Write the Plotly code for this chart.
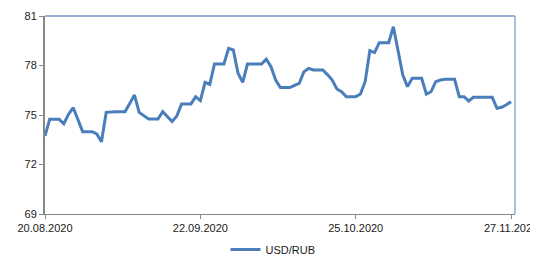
import plotly.graph_objects as go
import pandas as pd

start_date = "2020-08-20"
usd_rub = [
    73.73, 74.74, 74.74, 74.74, 74.47, 75.05, 75.44, 74.70, 73.99, 73.99,
    73.99, 73.85, 73.38, 75.16, 75.20, 75.20, 75.20, 75.20, 75.70, 76.21,
    75.16, 74.95, 74.76, 74.76, 74.76, 75.20, 74.90, 74.60, 74.94, 75.67,
    75.67, 75.67, 76.11, 75.87, 76.98, 76.86, 78.09, 78.09, 78.09, 79.04,
    78.94, 77.53, 76.98, 78.09, 78.09, 78.09, 78.09, 78.38, 77.93, 77.12,
    76.66, 76.66, 76.66, 76.80, 76.92, 77.62, 77.83, 77.73, 77.73, 77.73,
    77.45, 77.12, 76.58, 76.41, 76.11, 76.11, 76.11, 76.27, 77.02, 78.90,
    78.78, 79.38, 79.38, 79.38, 80.35, 78.90, 77.42, 76.72, 77.22, 77.22,
    77.22, 76.27, 76.41, 77.02, 77.12, 77.16, 77.16, 77.16, 76.11, 76.11,
    75.85, 76.07, 76.07, 76.07, 76.07, 76.07, 75.41, 75.47, 75.62, 75.81,
]
dates = pd.date_range(start_date, periods=len(usd_rub), freq="D")

x_tick_vals = ["2020-08-20", "2020-09-22", "2020-10-25", "2020-11-27"]
x_tick_text = ["20.08.2020", "22.09.2020", "25.10.2020", "27.11.2020"]
y_tick_vals = [69, 72, 75, 78, 81]

fig = go.Figure()
fig.add_trace(go.Scatter(
    x=dates, y=usd_rub, mode="lines", name="USD/RUB",
    line=dict(color="#4A7EBB", width=3),
))

axis_gray = "#878787"
fig.update_layout(
    width=530, height=249,
    margin=dict(l=37, r=23, t=8, b=43, autoexpand=False),
    paper_bgcolor="white", plot_bgcolor="white",
    font=dict(family="Liberation Sans", size=11, color="#1a1a1a"),
    showlegend=True,
    legend=dict(orientation="h", x=0.5, xanchor="center", xref="container",
                y=0.03, yanchor="middle", yref="container",
                font=dict(size=11), itemwidth=30),
    xaxis=dict(
        range=["2020-08-20", "2020-11-27 20:00"],
        tickvals=x_tick_vals, ticktext=x_tick_text,
        showgrid=False, zeroline=False, automargin=False,
        ticklabeloverflow="allow",
        showline=True, linecolor=axis_gray, linewidth=1,
        ticks="outside", ticklen=4, tickcolor=axis_gray,
    ),
    yaxis=dict(
        range=[69, 81], tickvals=y_tick_vals,
        showgrid=False, zeroline=False, automargin=False,
        showline=True, linecolor=axis_gray, linewidth=2,
        ticks="outside", ticklen=4, tickcolor=axis_gray,
    ),
    shapes=[
        dict(type="line", xref="paper", yref="paper", x0=0, x1=1, y0=1, y1=1,
             line=dict(color="#95B3D7", width=2)),
        dict(type="line", xref="paper", yref="paper", x0=1, x1=1, y0=0, y1=1,
             line=dict(color="#4F81BD", width=1)),
    ],
)

fig.write_html("out.html")
